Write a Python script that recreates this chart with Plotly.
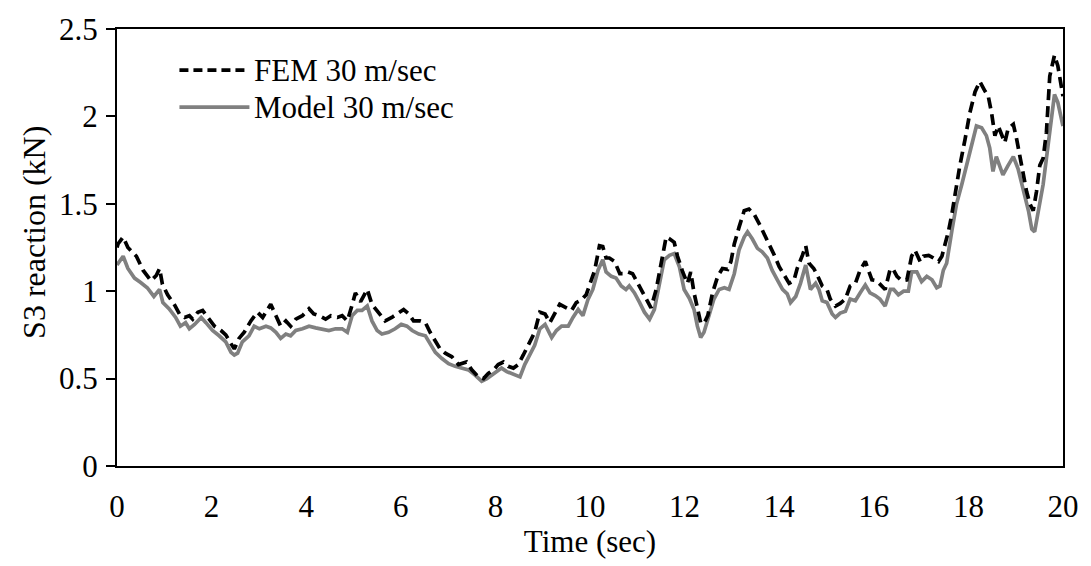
import plotly.graph_objects as go

# ---- data ----
fem_t = [0.00, 0.02, 0.13, 0.23, 0.41, 0.55, 0.72, 0.83, 0.90, 0.96, 1.07, 1.22, 1.32, 1.43, 1.53, 1.60,
         1.71, 1.81, 1.92, 2.06, 2.20, 2.30, 2.41, 2.48, 2.58, 2.69, 2.83, 2.97, 3.08, 3.18, 3.25, 3.36,
         3.46, 3.57, 3.67, 3.78, 3.92, 4.06, 4.16, 4.27, 4.41, 4.52, 4.66, 4.76, 4.87, 4.97, 5.04, 5.15,
         5.29, 5.39, 5.53, 5.67, 5.81, 5.96, 6.06, 6.17, 6.27, 6.41, 6.52, 6.62, 6.73, 6.83, 6.94, 7.08,
         7.22, 7.39, 7.50, 7.64, 7.75, 7.85, 7.96, 8.06, 8.17, 8.27, 8.38, 8.48, 8.59, 8.69, 8.83, 8.94,
         9.05, 9.15, 9.26, 9.36, 9.50, 9.61, 9.71, 9.82, 9.92, 9.99, 10.10, 10.20, 10.27, 10.34, 10.41,
         10.52, 10.63, 10.73, 10.80, 10.90, 11.01, 11.12, 11.22, 11.29, 11.40, 11.50, 11.61, 11.68, 11.78,
         11.85, 11.96, 12.06, 12.13, 12.20, 12.27, 12.34, 12.41, 12.49, 12.59, 12.70, 12.80, 12.91, 12.98,
         13.05, 13.15, 13.26, 13.36, 13.47, 13.57, 13.68, 13.79, 13.89, 14.00, 14.10, 14.21, 14.31, 14.38,
         14.49, 14.56, 14.63, 14.73, 14.80, 14.91, 15.01, 15.08, 15.19, 15.29, 15.40, 15.50, 15.61, 15.71,
         15.82, 15.89, 15.96, 16.06, 16.17, 16.24, 16.35, 16.42, 16.49, 16.59, 16.70, 16.80, 16.87, 16.98,
         17.05, 17.16, 17.26, 17.37, 17.44, 17.51, 17.58, 17.65, 17.72, 17.82, 17.93, 18.03, 18.14, 18.24,
         18.35, 18.42, 18.49, 18.56, 18.63, 18.70, 18.77, 18.84, 18.95, 19.02, 19.09, 19.16, 19.23, 19.30,
         19.37, 19.44, 19.51, 19.58, 19.65, 19.72, 19.82, 19.89, 19.96, 20.00]
fem_v = [1.25, 1.27, 1.31, 1.25, 1.20, 1.12, 1.06, 1.09, 1.13, 1.04, 0.98, 0.92, 0.87, 0.85, 0.86, 0.84,
         0.88, 0.89, 0.85, 0.80, 0.775, 0.75, 0.70, 0.67, 0.73, 0.765, 0.83, 0.88, 0.85, 0.90, 0.925, 0.86,
         0.80, 0.83, 0.80, 0.84, 0.86, 0.90, 0.87, 0.86, 0.84, 0.86, 0.85, 0.86, 0.83, 0.92, 0.99, 0.94,
         1.01, 0.925, 0.88, 0.83, 0.85, 0.88, 0.895, 0.87, 0.83, 0.83, 0.82, 0.765, 0.71, 0.67, 0.645, 0.625,
         0.58, 0.595, 0.55, 0.51, 0.50, 0.53, 0.55, 0.58, 0.595, 0.57, 0.56, 0.58, 0.635, 0.69, 0.765, 0.88,
         0.87, 0.82, 0.87, 0.925, 0.905, 0.89, 0.935, 0.95, 0.98, 1.03, 1.12, 1.26, 1.255, 1.19, 1.19,
         1.17, 1.10, 1.10, 1.11, 1.10, 1.045, 0.99, 0.935, 0.905, 1.01, 1.16, 1.31, 1.30, 1.28,
         1.20, 1.11, 1.045, 1.11, 0.99, 0.895, 0.82, 0.815, 0.86, 0.99, 1.085, 1.13, 1.125, 1.17,
         1.27, 1.365, 1.46, 1.47, 1.44, 1.39, 1.33, 1.26, 1.21, 1.14, 1.09, 1.045, 1.06, 1.13,
         1.205, 1.26, 1.16, 1.13, 1.095, 1.03, 1.01, 0.955, 0.915, 0.93, 0.955, 1.03, 1.045, 1.12,
         1.17, 1.12, 1.065, 1.06, 1.03, 1.01, 1.13, 1.12, 1.085, 1.06, 1.065, 1.20, 1.235, 1.17,
         1.20, 1.205, 1.19, 1.17, 1.20, 1.27, 1.345, 1.44, 1.57, 1.72, 1.87, 2.02, 2.14, 2.20,
         2.145, 2.115, 2.02, 1.89, 1.945, 1.89, 1.85, 1.93, 1.955, 1.87, 1.76, 1.665, 1.57, 1.50,
         1.46, 1.57, 1.72, 1.76, 1.91, 2.23, 2.35, 2.29, 2.19, 2.115]

model_t = [0.00, 0.13, 0.23, 0.37, 0.50, 0.64, 0.78, 0.90, 0.97, 1.10, 1.24, 1.34, 1.45, 1.53, 1.64, 1.78,
           1.88, 2.02, 2.16, 2.30, 2.41, 2.48, 2.55, 2.65, 2.79, 2.90, 3.01, 3.15, 3.25, 3.36, 3.46, 3.57,
           3.67, 3.78, 3.92, 4.06, 4.20, 4.34, 4.48, 4.62, 4.76, 4.87, 4.97, 5.08, 5.18, 5.29, 5.39, 5.50,
           5.60, 5.74, 5.88, 6.01, 6.13, 6.24, 6.38, 6.52, 6.62, 6.73, 6.87, 7.01, 7.15, 7.29, 7.43, 7.57,
           7.71, 7.82, 7.92, 8.03, 8.13, 8.24, 8.34, 8.45, 8.52, 8.62, 8.73, 8.83, 8.94, 9.05, 9.19, 9.29,
           9.40, 9.54, 9.64, 9.75, 9.85, 9.96, 10.06, 10.17, 10.27, 10.34, 10.45, 10.55, 10.66, 10.76, 10.83,
           10.94, 11.05, 11.15, 11.26, 11.36, 11.47, 11.57, 11.68, 11.78, 11.89, 11.99, 12.10, 12.20, 12.27,
           12.34, 12.41, 12.52, 12.62, 12.73, 12.84, 12.94, 13.05, 13.15, 13.26, 13.33, 13.43, 13.54, 13.64,
           13.75, 13.85, 13.96, 14.07, 14.17, 14.24, 14.35, 14.45, 14.56, 14.66, 14.77, 14.84, 14.91, 15.01,
           15.12, 15.19, 15.29, 15.40, 15.50, 15.61, 15.71, 15.82, 15.92, 16.03, 16.13, 16.24, 16.35, 16.42,
           16.52, 16.63, 16.73, 16.80, 16.91, 17.01, 17.12, 17.23, 17.33, 17.40, 17.47, 17.54, 17.65, 17.75,
           17.86, 17.96, 18.07, 18.17, 18.28, 18.38, 18.45, 18.52, 18.59, 18.66, 18.73, 18.84, 18.95, 19.05,
           19.16, 19.27, 19.34, 19.40, 19.48, 19.58, 19.65, 19.75, 19.82, 19.89, 19.96, 20.00]
model_v = [1.15, 1.20, 1.13, 1.075, 1.05, 1.02, 0.97, 1.01, 0.935, 0.90, 0.85, 0.80, 0.82, 0.785, 0.81, 0.85,
           0.82, 0.775, 0.745, 0.71, 0.65, 0.635, 0.645, 0.71, 0.745, 0.80, 0.785, 0.80, 0.79, 0.765, 0.73, 0.755,
           0.745, 0.775, 0.785, 0.80, 0.79, 0.785, 0.775, 0.785, 0.785, 0.765, 0.86, 0.89, 0.89, 0.915, 0.83, 0.775,
           0.755, 0.765, 0.785, 0.81, 0.80, 0.775, 0.755, 0.745, 0.70, 0.65, 0.615, 0.585, 0.57, 0.56, 0.55, 0.52,
           0.485, 0.50, 0.52, 0.54, 0.56, 0.54, 0.53, 0.52, 0.51, 0.58, 0.635, 0.69, 0.785, 0.81, 0.735, 0.775,
           0.80, 0.80, 0.85, 0.895, 0.86, 0.955, 1.01, 1.12, 1.18, 1.11, 1.085, 1.075, 1.03, 1.01, 1.03,
           0.99, 0.935, 0.88, 0.84, 0.895, 1.045, 1.18, 1.205, 1.215, 1.14, 1.01, 0.96, 0.895, 0.80,
           0.735, 0.765, 0.86, 0.955, 1.01, 1.02, 1.01, 1.10, 1.235, 1.31, 1.34, 1.30, 1.245, 1.225,
           1.19, 1.12, 1.065, 1.01, 0.985, 0.935, 0.97, 1.045, 1.15, 1.01, 1.045, 1.01, 0.945, 0.935,
           0.87, 0.85, 0.875, 0.885, 0.955, 0.945, 0.99, 1.035, 0.99, 0.975, 0.955, 0.915, 1.01, 1.01,
           0.98, 1.00, 1.00, 1.11, 1.11, 1.055, 1.085, 1.065, 1.02, 1.03, 1.12, 1.16, 1.345, 1.50,
           1.61, 1.72, 1.85, 1.945, 1.935, 1.89, 1.82, 1.685, 1.77, 1.72, 1.665, 1.72, 1.77, 1.70,
           1.59, 1.46, 1.355, 1.34, 1.46, 1.61, 1.76, 2.00, 2.125, 2.08, 2.00, 1.945]

x_ticks = [0, 2, 4, 6, 8, 10, 12, 14, 16, 18, 20]
y_ticks = [0, 0.5, 1, 1.5, 2, 2.5]
y_tick_text = ["0", "0.5", "1", "1.5", "2", "2.5"]
series_names = ["FEM 30 m/sec", "Model 30 m/sec"]
x_title = "Time (sec)"
y_title = "S3 reaction (kN)"

FONT = "Liberation Serif, Times New Roman, serif"
FEM_COLOR = "#000000"
MODEL_COLOR = "#808080"
FS = 31

fig = go.Figure()
fig.add_trace(go.Scatter(x=model_t, y=model_v, mode="lines", name=series_names[1],
                         line=dict(color=MODEL_COLOR, width=3.7), showlegend=False))
fig.add_trace(go.Scatter(x=fem_t, y=fem_v, mode="lines", name=series_names[0],
                         line=dict(color=FEM_COLOR, width=3.7, dash="11px,6px"), showlegend=False))

# custom legend (longer line samples like the reference)
leg_items = [(series_names[0], FEM_COLOR, "9px,5px", 0.906), (series_names[1], MODEL_COLOR, "solid", 0.821)]
for name, col, dash, yy in leg_items:
    fig.add_shape(type="line", xref="paper", yref="paper", x0=0.066, x1=0.14, y0=yy, y1=yy,
                  line=dict(color=col, width=3.7, dash=dash))
    fig.add_annotation(xref="paper", yref="paper", x=0.143, y=yy, text=name, showarrow=False,
                       xanchor="left", yanchor="middle", font=dict(family=FONT, size=FS, color="black"))

# y-axis title placed like the reference (slightly above centre)
fig.add_annotation(xref="paper", yref="paper", x=-0.087, y=0.535, text=y_title, showarrow=False,
                   textangle=-90, xanchor="center", yanchor="middle",
                   font=dict(family=FONT, size=32, color="black"))

fig.update_layout(
    width=1091, height=566,
    margin=dict(l=117, r=24, t=22, b=100),
    paper_bgcolor="white", plot_bgcolor="white",
    font=dict(family=FONT, size=FS, color="black"),
)
fig.update_xaxes(range=[0, 20], tickvals=x_ticks, ticks="", showline=True, linecolor="black",
                 linewidth=2, mirror=True, showgrid=False, zeroline=False,
                 tickfont=dict(family=FONT, size=FS, color="black"),
                 ticklabelstandoff=12,
                 title=dict(text=x_title, standoff=6, font=dict(family=FONT, size=FS)))
fig.update_yaxes(range=[0, 2.5], tickvals=y_ticks, ticktext=y_tick_text, ticks="outside", ticklen=9,
                 tickwidth=2, tickcolor="black", showline=True, linecolor="black", linewidth=2, mirror=True,
                 showgrid=False, zeroline=False, ticklabelstandoff=2,
                 tickfont=dict(family=FONT, size=FS, color="black"))

fig.write_html("out.html")
